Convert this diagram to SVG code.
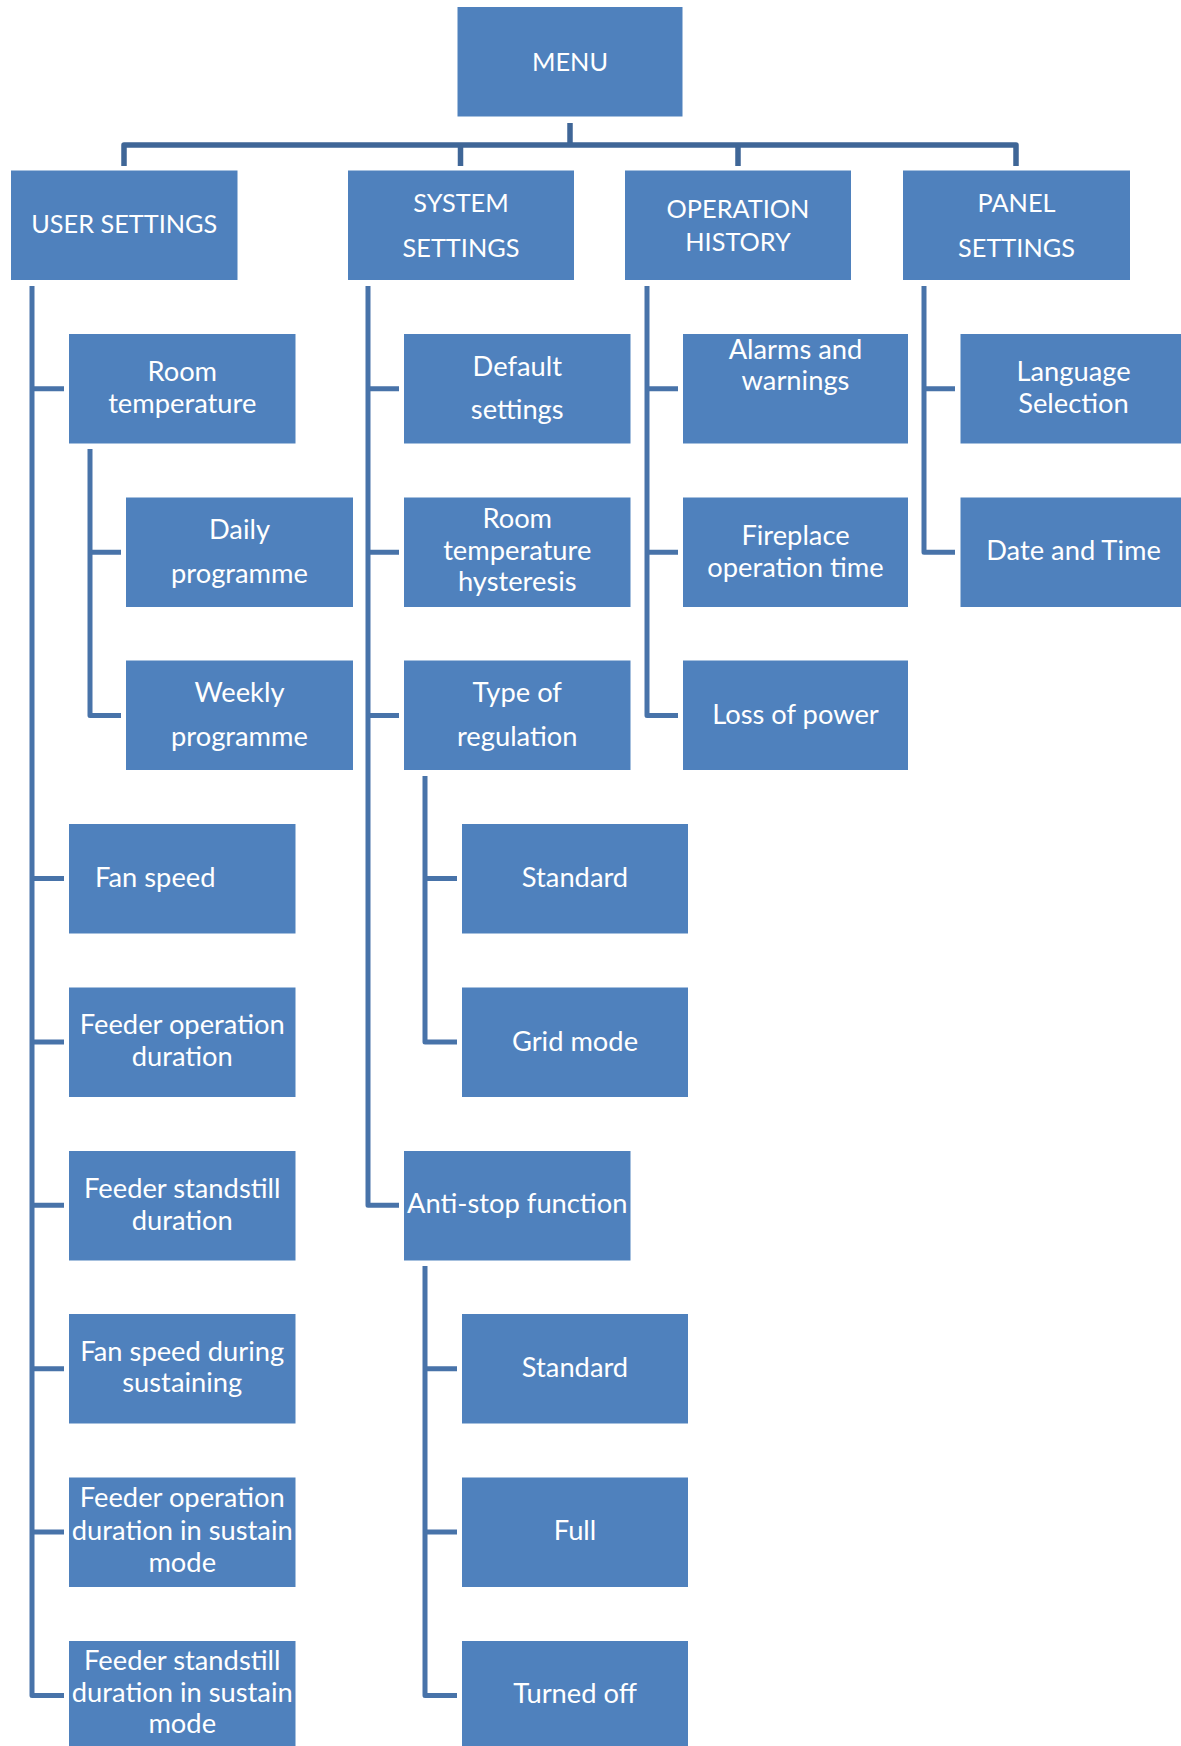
<svg xmlns="http://www.w3.org/2000/svg" width="1181" height="1746" viewBox="0 0 1181 1746">
<style>
.b{fill:#4F81BD}
.t{fill:#FFFFFF;font-family:Lato,"Liberation Sans",sans-serif;font-size:27.3px;text-anchor:middle}
.u{font-size:25.3px}
.c{fill:none;stroke:#4873A9;stroke-width:5;stroke-linejoin:round;stroke-linecap:butt}
.top{fill:none;stroke:#3F6697;stroke-width:5.5;stroke-linejoin:round}
</style>
<rect width="1181" height="1746" fill="#FFFFFF"/>
<g id="connectors">
<path class="top" d="M570 123V145"/>
<path class="top" d="M124 166V145H1016V166"/>
<path class="top" d="M460.5 145V166M738 145V166"/>
<path class="c" d="M32 286V1695.5H64M32 388.8H64M32 878.5H64M32 1042H64M32 1205.3H64M32 1368.7H64M32 1532H64"/>
<path class="c" d="M90 449V715.6H121M90 552.2H121"/>
<path class="c" d="M368 286V1205.3H399M368 388.8H399M368 552.2H399M368 715.6H399"/>
<path class="c" d="M425 776V1042H457M425 878.5H457"/>
<path class="c" d="M425 1266V1695.5H457M425 1368.7H457M425 1532H457"/>
<path class="c" d="M647 286V715.6H678M647 388.8H678M647 552.2H678"/>
<path class="c" d="M924 286V552.2H955M924 388.8H955"/>
</g>
<g id="menu"><rect class="b" x="457.5" y="7" width="225" height="109.5"/><text class="t u" x="570" y="71">MENU</text></g>
<g id="user-settings"><rect class="b" x="11" y="170.5" width="226.5" height="109.5"/><text class="t u" x="124.25" y="233">USER SETTINGS</text></g>
<g id="system-settings"><rect class="b" x="348" y="170.5" width="226" height="109.5"/><text class="t u" x="461" y="211.7">SYSTEM</text><text class="t u" x="461" y="256.7">SETTINGS</text></g>
<g id="operation-history"><rect class="b" x="625" y="170.5" width="226" height="109.5"/><text class="t u" x="738" y="218">OPERATION</text><text class="t u" x="738" y="250.7">HISTORY</text></g>
<g id="panel-settings"><rect class="b" x="903" y="170.5" width="227" height="109.5"/><text class="t u" x="1016.5" y="211.7">PANEL</text><text class="t u" x="1016.5" y="256.7">SETTINGS</text></g>

<g id="room-temperature"><rect class="b" x="69" y="334" width="226.5" height="109.5"/><text class="t" x="182.25" y="381">Room</text><text class="t" x="182.25" y="413">temperature</text></g>
<g id="daily-programme"><rect class="b" x="126" y="497.5" width="227" height="109.5"/><text class="t" x="239.5" y="539">Daily</text><text class="t" x="239.5" y="583">programme</text></g>
<g id="weekly-programme"><rect class="b" x="126" y="660.5" width="227" height="109.5"/><text class="t" x="239.5" y="701.5">Weekly</text><text class="t" x="239.5" y="745.7">programme</text></g>
<g id="fan-speed"><rect class="b" x="69" y="824" width="226.5" height="109.5"/><text class="t" x="95" y="886.7" style="text-anchor:start">Fan speed</text></g>
<g id="feeder-operation-duration"><rect class="b" x="69" y="987.5" width="226.5" height="109.5"/><text class="t" x="182.25" y="1034">Feeder operation</text><text class="t" x="182.25" y="1065.7">duration</text></g>
<g id="feeder-standstill-duration"><rect class="b" x="69" y="1151" width="226.5" height="109.5"/><text class="t" x="182.25" y="1198.3">Feeder standstill</text><text class="t" x="182.25" y="1229.8">duration</text></g>
<g id="fan-speed-sustaining"><rect class="b" x="69" y="1314" width="226.5" height="109.5"/><text class="t" x="182.25" y="1361">Fan speed during</text><text class="t" x="182.25" y="1392">sustaining</text></g>
<g id="feeder-operation-sustain"><rect class="b" x="69" y="1477.5" width="226.5" height="109.5"/><text class="t" x="182.25" y="1507.3">Feeder operation</text><text class="t" x="182.25" y="1540">duration in sustain</text><text class="t" x="182.25" y="1572">mode</text></g>
<g id="feeder-standstill-sustain"><rect class="b" x="69" y="1641" width="226.5" height="109.5"/><text class="t" x="182.25" y="1669.6">Feeder standstill</text><text class="t" x="182.25" y="1702">duration in sustain</text><text class="t" x="182.25" y="1733.4">mode</text></g>

<g id="default-settings"><rect class="b" x="404" y="334" width="226.5" height="109.5"/><text class="t" x="517.25" y="375.7">Default</text><text class="t" x="517.25" y="419">settings</text></g>
<g id="room-temperature-hysteresis"><rect class="b" x="404" y="497.5" width="226.5" height="109.5"/><text class="t" x="517.25" y="528.3">Room</text><text class="t" x="517.25" y="560">temperature</text><text class="t" x="517.25" y="591">hysteresis</text></g>
<g id="type-of-regulation"><rect class="b" x="404" y="660.5" width="226.5" height="109.5"/><text class="t" x="517.25" y="701.5">Type of</text><text class="t" x="517.25" y="745.7">regulation</text></g>
<g id="standard-1"><rect class="b" x="462" y="824" width="226" height="109.5"/><text class="t" x="575" y="886.7">Standard</text></g>
<g id="grid-mode"><rect class="b" x="462" y="987.5" width="226" height="109.5"/><text class="t" x="575" y="1050.5">Grid mode</text></g>
<g id="anti-stop-function"><rect class="b" x="404" y="1151" width="226.5" height="109.5"/><text class="t" x="517.25" y="1212.7">Anti-stop function</text></g>
<g id="standard-2"><rect class="b" x="462" y="1314" width="226" height="109.5"/><text class="t" x="575" y="1376.7">Standard</text></g>
<g id="full"><rect class="b" x="462" y="1477.5" width="226" height="109.5"/><text class="t" x="575" y="1540">Full</text></g>
<g id="turned-off"><rect class="b" x="462" y="1641" width="226" height="109.5"/><text class="t" x="575" y="1703">Turned off</text></g>

<g id="alarms-warnings"><rect class="b" x="683" y="334" width="225" height="109.5"/><text class="t" x="795.5" y="359">Alarms and</text><text class="t" x="795.5" y="390">warnings</text></g>
<g id="fireplace-operation-time"><rect class="b" x="683" y="497.5" width="225" height="109.5"/><text class="t" x="795.5" y="545">Fireplace</text><text class="t" x="795.5" y="576.7">operation time</text></g>
<g id="loss-of-power"><rect class="b" x="683" y="660.5" width="225" height="109.5"/><text class="t" x="795.5" y="724">Loss of power</text></g>

<g id="language-selection"><rect class="b" x="960.5" y="334" width="226" height="109.5"/><text class="t" x="1073.5" y="381">Language</text><text class="t" x="1073.5" y="412.7">Selection</text></g>
<g id="date-and-time"><rect class="b" x="960.5" y="497.5" width="226" height="109.5"/><text class="t" x="1073.5" y="560">Date and Time</text></g>
</svg>
